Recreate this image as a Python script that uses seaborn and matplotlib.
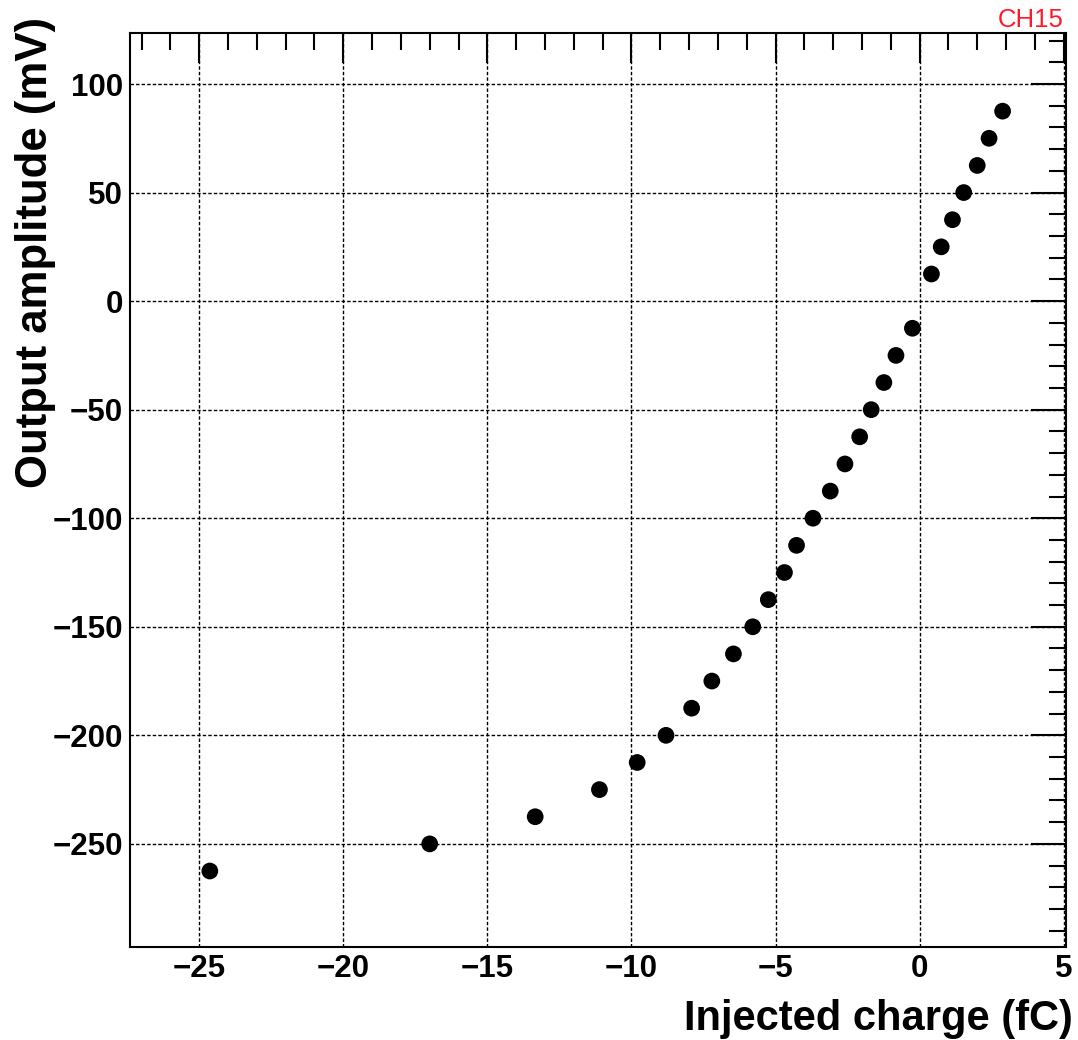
import numpy as np
import pandas as pd
import matplotlib
matplotlib.use("Agg")
import matplotlib.pyplot as plt
from matplotlib.ticker import MultipleLocator
import seaborn as sns

# ── data ─────────────────────────────────────────────────────────────────────
charge_fc = [-24.63, -17.0, -13.34, -11.11, -9.80, -8.80, -7.91, -7.21, -6.46,
             -5.79, -5.25, -4.69, -4.27, -3.70, -3.10, -2.59, -2.08, -1.68,
             -1.24, -0.82, -0.25, 0.41, 0.75, 1.14, 1.53, 2.00, 2.41, 2.88]
amplitude_mv = [-262.5, -250, -237.5, -225, -212.5, -200, -187.5, -175, -162.5,
                -150, -137.5, -125, -112.5, -100, -87.5, -75, -62.5, -50,
                -37.5, -25, -12.5, 12.5, 25, 37.5, 50, 62.5, 75, 87.5]
channel = "CH15"
x_title = "Injected charge (fC)"
y_title = "Output amplitude (mV)"

df = pd.DataFrame({"charge": charge_fc, "amp": amplitude_mv})

sns.set_theme(style="white")
plt.rcParams["font.family"] = ["Liberation Sans", "DejaVu Sans"]

fig = plt.figure(figsize=(10.78, 10.4), dpi=100)
ax = fig.add_axes([130 / 1078, 1 - 947 / 1040, 936 / 1078, 914 / 1040])

sns.scatterplot(data=df, x="charge", y="amp", ax=ax, color="black",
                s=145, edgecolor="none", zorder=3)

ax.set_xlim(-27.4, 5.08)
ax.set_ylim(-297.5, 123.5)

ax.xaxis.set_major_locator(MultipleLocator(5))
ax.xaxis.set_minor_locator(MultipleLocator(1))
ax.yaxis.set_major_locator(MultipleLocator(50))
ax.yaxis.set_minor_locator(MultipleLocator(10))

ax.grid(True, which="major", color="black", linestyle=(0, (2.5, 1.5)), lw=1.0)

ax.tick_params(axis="both", which="both", direction="in", top=True, right=True,
               color="black", width=1.5, labelsize=22.5, labelcolor="black")
ax.tick_params(axis="x", which="major", length=21.5, pad=5)
ax.tick_params(axis="y", which="major", length=25, pad=5)
ax.tick_params(axis="both", which="minor", length=12)
for lab in ax.get_xticklabels() + ax.get_yticklabels():
    lab.set_fontweight("bold")

for sp in ax.spines.values():
    sp.set_color("black")
    sp.set_linewidth(1.5)

ax.set_xlabel("")
ax.set_ylabel("")
fig.text(1073 / 1078, 1 - 1030 / 1040, x_title, fontsize=30,
         fontweight="bold", color="black", ha="right", va="baseline")
fig.text(15 / 1078, 1 - 488 / 1040, y_title, fontsize=31.5, rotation=90,
         fontweight="bold", color="black", ha="left", va="bottom")

fig.text(1064 / 1078, 1 - 27 / 1040, channel, color="#ff1a2a", fontsize=18.5,
         ha="right", va="baseline")

fig.savefig("out.png", dpi=100)
